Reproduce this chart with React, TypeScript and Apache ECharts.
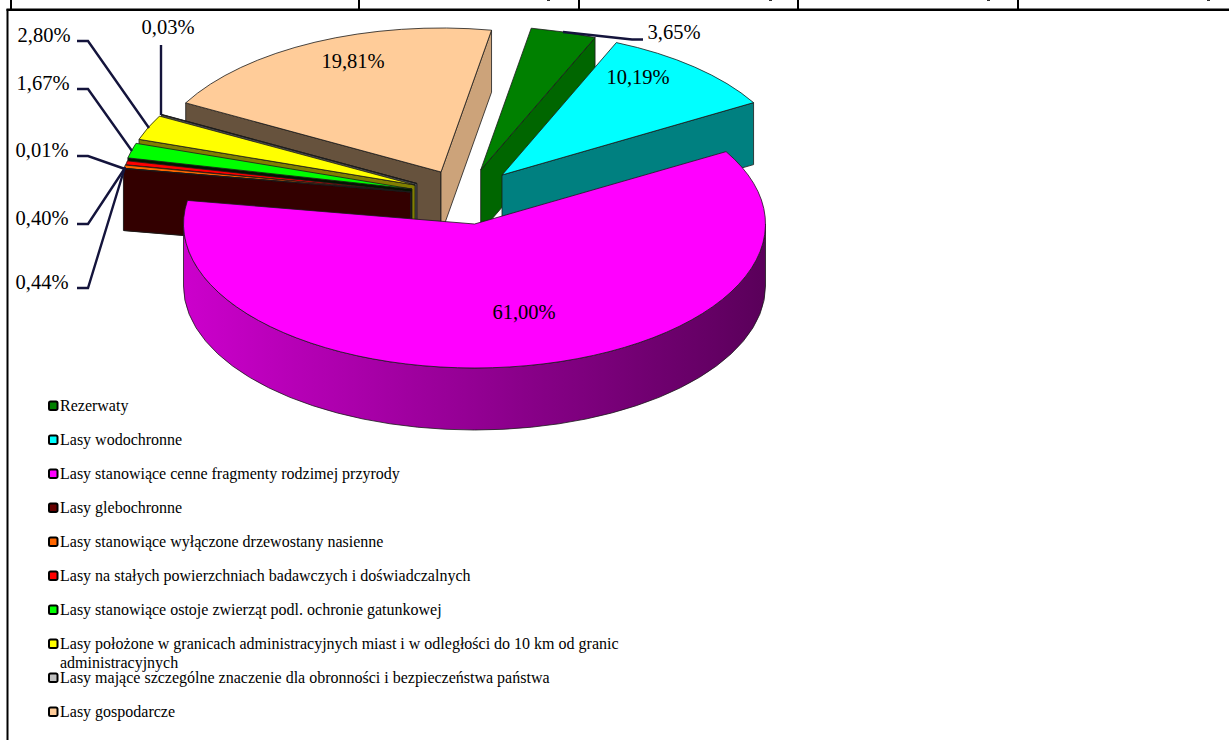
import React, { useEffect, useRef } from "react";
import * as echarts from "echarts";

const names = [
  "Rezerwaty",
  "Lasy wodochronne",
  "Lasy stanowiące cenne fragmenty rodzimej przyrody",
  "Lasy glebochronne",
  "Lasy stanowiące wyłączone drzewostany nasienne",
  "Lasy na stałych powierzchniach badawczych i doświadczalnych",
  "Lasy stanowiące ostoje zwierząt podl. ochronie gatunkowej",
  "Lasy położone w granicach administracyjnych miast i w odległości do 10 km od granic\nadministracyjnych",
  "Lasy mające szczególne znaczenie dla obronności i bezpieczeństwa państwa",
  "Lasy gospodarcze",
];
const values = [3.65, 10.19, 61.0, 0.01, 0.4, 0.44, 1.67, 2.8, 0.03, 19.81];

// styling & layout, by slice
const topColors = ["#008000", "#00FFFF", "#FF00FF", "#660000", "#FF6600", "#FF0000", "#00FF00", "#FFFF00", "#969696", "#FFCC99"];
const legendColors = ["#008000", "#00FFFF", "#FF00FF", "#660000", "#FF6600", "#FF0000", "#00FF00", "#FFFF00", "#C0C0C0", "#FFCC99"];
const startWalls = ["#006600", "#008080", "#800080", "#330000", "#803300", "#400000", "#001800", "#808000", "#4B4B4B", "#66523D"];
const endWalls = ["#006600", "#008080", "#800080", "#330000", "#803300", "#400000", "#001800", "#808000", "#4B4B4B", "#CCA37A"];
const tipOffsets: [number, number][] = [
  [6.2, -54], [27.5, -49], [0, 0], [-64, -32], [-63.5, -31.7], [-63, -32],
  [-62.5, -35], [-59.5, -39], [-57.5, -40.5], [-33.5, -52],
];
const paintOrder = [0, 1, 9, 8, 7, 6, 5, 4, 3, 2];
const labelPos: [number, number][] = [
  [674, 32], [638, 77], [524, 312], [42, 150], [42, 218], [42, 282], [43, 83], [44, 35], [168, 27], [353, 61],
];
const leaders: ([number, number][] | null)[] = [
  [[643, 39.5], [632, 39.5], [563, 32]],
  null,
  null,
  [[77, 156], [88, 156], [125, 169]],
  [[77, 224], [88, 224], [125, 168]],
  [[77, 288], [88, 288], [125, 167]],
  [[77, 89], [88, 89], [132, 151]],
  [[77, 41], [88, 41], [149, 128]],
  [[161, 45], [161, 115]],
  null,
];
const legendY = [406, 440, 474, 508, 542, 576, 610, 644, 678, 712];
const tableVerticals = [11, 359, 579, 798, 1018];
const cellMarks = [547, 769, 987, 1207];

const CX = 474.5, CY = 224, RX = 291, RY = 144, DEPTH = 62, START_ANGLE = 10;
const total = values.reduce((a, b) => a + b, 0);
const startAngles: number[] = [];
values.reduce((acc, v, i) => {
  startAngles[i] = acc;
  return acc + (v / total) * 360;
}, START_ANGLE);

const rad = (d: number) => (d * Math.PI) / 180;
const pt = (tx: number, ty: number, a: number): [number, number] => [
  tx + RX * Math.sin(rad(a)),
  ty - RY * Math.cos(rad(a)),
];
const fmt = (v: number) => v.toFixed(2).replace(".", ",") + "%";

const STROKE = { stroke: "#1a1a1a", lineWidth: 0.8 };

function renderSlice(params: any, api: any) {
  const idx = api.value(0) as number;
  const value = api.value(1) as number;
  const a0 = startAngles[idx];
  const a1 = a0 + (value / total) * 360;
  const tx = CX + tipOffsets[idx][0];
  const ty = CY + tipOffsets[idx][1];
  const p0 = pt(tx, ty, a0);
  const p1 = pt(tx, ty, a1);
  const children: any[] = [];
  const edge = (p: [number, number], fill: string) => ({
    type: "path",
    shape: {
      pathData: `M${tx} ${ty}L${p[0]} ${p[1]}L${p[0]} ${p[1] + DEPTH}L${tx} ${ty + DEPTH}Z`,
    },
    style: { fill, ...STROKE },
  });
  if (Math.sin(rad(a0)) < 0) children.push(edge(p0, startWalls[idx]));
  if (Math.sin(rad(a1)) > 0) children.push(edge(p1, endWalls[idx]));
  const w0 = Math.max(a0, 90);
  const w1 = Math.min(a1, 270);
  if (w1 > w0) {
    const q0 = pt(tx, ty, w0);
    const q1 = pt(tx, ty, w1);
    children.push({
      type: "path",
      shape: {
        pathData:
          `M${q0[0]} ${q0[1]}A${RX} ${RY} 0 0 1 ${q1[0]} ${q1[1]}` +
          `L${q1[0]} ${q1[1] + DEPTH}A${RX} ${RY} 0 0 0 ${q0[0]} ${q0[1] + DEPTH}Z`,
      },
      style: {
        fill: new echarts.graphic.LinearGradient(0, 0, 1, 0, [
          { offset: 0, color: "#CC00CC" },
          { offset: 1, color: "#5A005A" },
        ]),
        ...STROKE,
      },
    });
  }
  const large = a1 - a0 > 180 ? 1 : 0;
  children.push({
    type: "path",
    shape: {
      pathData: `M${tx} ${ty}L${p0[0]} ${p0[1]}A${RX} ${RY} 0 ${large} 1 ${p1[0]} ${p1[1]}Z`,
    },
    style: { fill: topColors[idx], ...STROKE },
  });
  return { type: "group", children };
}

export default function App() {
  const ref = useRef<HTMLDivElement>(null);
  useEffect(() => {
    const chart = echarts.init(ref.current!, null, { renderer: "svg" });
    const textFont = "Liberation Serif";
    const graphic: any[] = [];
    // table lines at the top and left of the cell
    graphic.push({ type: "rect", z: 20, shape: { x: 6.5, y: 8.5, width: 1222.5, height: 2.5 }, style: { fill: "#000" } });
    graphic.push({ type: "rect", z: 20, shape: { x: 6.5, y: 9, width: 2, height: 731 }, style: { fill: "#000" } });
    tableVerticals.forEach((x) =>
      graphic.push({ type: "rect", z: 20, shape: { x: x - 1, y: 0, width: 2, height: 9 }, style: { fill: "#000" } })
    );
    cellMarks.forEach((x) =>
      graphic.push({ type: "rect", z: 20, shape: { x, y: 0, width: 3, height: 1 }, style: { fill: "#333" } })
    );
    // labels and leaders
    values.forEach((v, i) => {
      const leader = leaders[i];
      if (leader) {
        graphic.push({
          type: "polyline",
          z: 20,
          shape: { points: leader },
          style: { stroke: "#14143C", lineWidth: 2.4, fill: "none" },
        });
      }
      graphic.push({
        type: "text",
        z: 21,
        x: labelPos[i][0],
        y: labelPos[i][1],
        style: {
          text: fmt(v),
          fill: "#000",
          font: `20.5px "${textFont}"`,
          textAlign: "center",
          textVerticalAlign: "middle",
        },
      });
    });
    // legend
    names.forEach((n, i) => {
      graphic.push({
        type: "rect",
        z: 20,
        shape: { x: 49, y: legendY[i] - 4.5, width: 8.5, height: 8.5, r: 1.5 },
        style: { fill: legendColors[i], stroke: "#000", lineWidth: 2 },
      });
      const parts = n.split("\n");
      parts.forEach((t, k) => {
        graphic.push({
          type: "text",
          z: 21,
          x: 60,
          y: legendY[i] - 1 + k * 19,
          style: {
            text: t,
            fill: "#000",
            font: `16px "${textFont}"`,
            textAlign: "left",
            textVerticalAlign: "middle",
          },
        });
      });
    });
    chart.setOption({
      animation: false,
      backgroundColor: "#fff",
      graphic,
      series: [
        {
          type: "custom",
          coordinateSystem: "none",
          renderItem: renderSlice,
          data: paintOrder.map((i) => ({ name: names[i], value: [i, values[i]] })),
          silent: true,
          z: 2,
        },
      ],
    });
    return () => chart.dispose();
  }, []);
  return <div ref={ref} style={{ position: "fixed", left: 0, top: 0, width: 1229, height: 740 }} />;
}
